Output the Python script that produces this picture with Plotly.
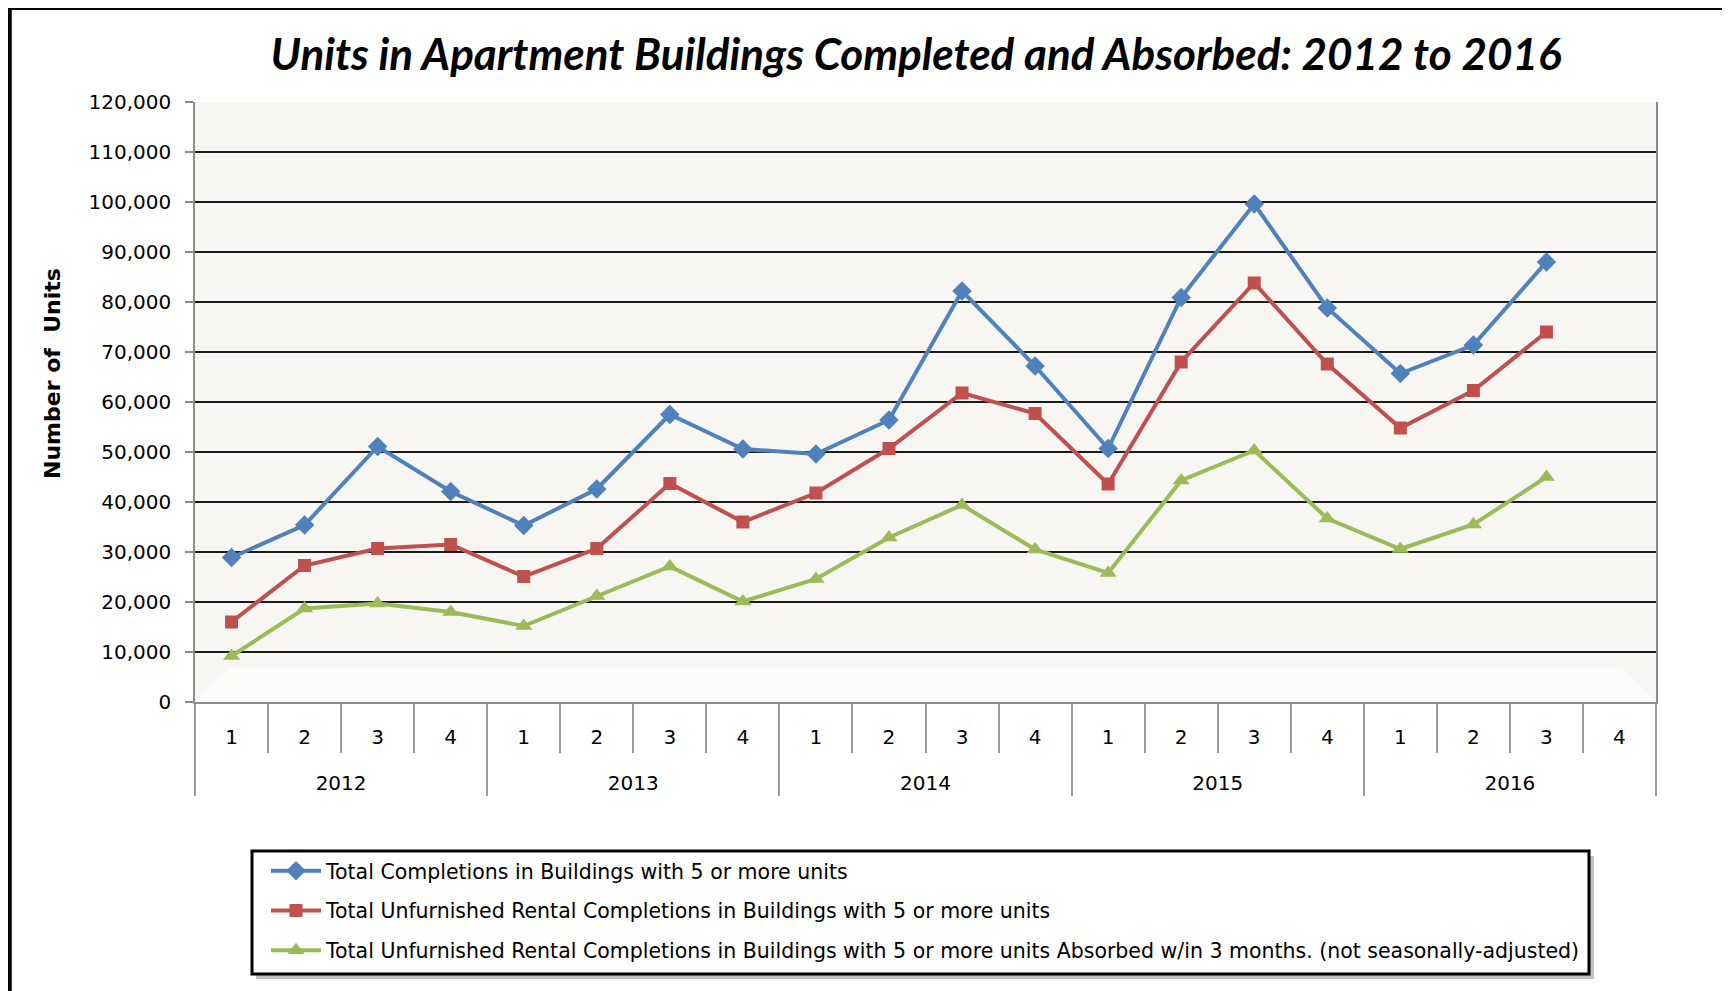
import plotly.graph_objects as go

# ---------------- data ----------------
years = ["2012", "2013", "2014", "2015", "2016"]
quarters = ["1", "2", "3", "4"]

total_completions = [28900, 35400, 51100, 42100, 35300, 42600, 57500, 50600, 49600, 56400,
                     82200, 67200, 50700, 80900, 99600, 78800, 65700, 71400, 88000, None]
unfurnished_rental = [16000, 27300, 30700, 31500, 25100, 30700, 43700, 36000, 41800, 50700,
                      61800, 57700, 43600, 68000, 83800, 67600, 54800, 62300, 74000, None]
absorbed_3_months = [9200, 18700, 19700, 18000, 15200, 21200, 27100, 20100, 24600, 32900,
                     39400, 30500, 25800, 44300, 50300, 36700, 30600, 35500, 45000, None]

series_names = [
    "Total Completions in Buildings with 5 or more units",
    "Total Unfurnished Rental Completions in Buildings with 5 or more units",
    "Total Unfurnished Rental Completions in Buildings with 5 or more units Absorbed w/in 3 months. (not seasonally-adjusted)",
]
title_text = "Units in Apartment Buildings Completed and Absorbed: 2012 to 2016"
y_title = "Number of  Units"

# ---------------- geometry (screen pixels -> paper) ----------------
OFF = 8                      # page body margin
FW, FH = 1730 - OFF, 991 - OFF
PL, PR, PT, PB = 195, 1656, 102, 702   # plot area, screen pixels


def px(x):
    return (x - PL) / (PR - PL)


def py(y):
    return (PB - y) / (PB - PT)


# year labels pushed down so they sit in the lower band; quarter labels padded
# with wide invisible spacers so the label band is taller
pad = "<span style='font-size:29px'>\u00a0</span>"
x_year = ["<br>" + y for y in years for _ in quarters]
x_q = [pad + q + pad for _ in years for q in quarters]

colors = ["#4F81BD", "#C0504D", "#9BBB59"]
symbols = ["diamond", "square", "triangle-up"]
msizes = [15, 13, 15]
values = [total_completions, unfurnished_rental, absorbed_3_months]

fig = go.Figure()
for i in range(3):
    fig.add_trace(go.Scatter(
        x=[x_year, x_q], y=values[i], name=series_names[i],
        mode="lines+markers",
        line=dict(color=colors[i], width=4),
        marker=dict(symbol=symbols[i], size=msizes[i], color=colors[i]),
        legendgroup=f"g{i}",
    ))

shapes = []
# floor of the 3D-look wall
shapes.append(dict(type="path", xref="paper", yref="paper", layer="below",
                   path=f"M {px(195)} {py(702)} L {px(1656)} {py(702)} L {px(1622)} {py(668)} L {px(229)} {py(668)} Z",
                   fillcolor="rgba(255,255,255,0.6)", line=dict(width=0)))
# outer frame
shapes.append(dict(type="line", xref="paper", yref="paper", x0=px(5), x1=px(1735), y0=py(7.5), y1=py(7.5),
                   line=dict(color="black", width=5)))
shapes.append(dict(type="line", xref="paper", yref="paper", x0=px(9.5), x1=px(9.5), y0=py(5), y1=py(1000),
                   line=dict(color="black", width=4.5)))
shapes.append(dict(type="line", xref="paper", yref="paper", x0=px(1727), x1=px(1727), y0=py(10), y1=py(1000),
                   line=dict(color="#808080", width=1.5)))
# legend shadow and box
shapes.append(dict(type="rect", xref="paper", yref="paper", x0=px(256), x1=px(1594), y0=py(856), y1=py(979),
                   fillcolor="rgba(120,120,120,0.45)", line=dict(width=0)))
shapes.append(dict(type="rect", xref="paper", yref="paper", x0=px(252), x1=px(1589), y0=py(851), y1=py(974),
                   fillcolor="white", line=dict(color="black", width=3)))

fig.update_layout(
    width=FW, height=FH,
    margin=dict(l=PL - OFF, r=FW - (PR - OFF), t=PT - OFF, b=FH - (PB - OFF)),
    paper_bgcolor="white",
    plot_bgcolor="#F7F6F2",
    font=dict(family="DejaVu Sans", size=20, color="black"),
    title=dict(text=title_text, x=px(916), xref="paper", xanchor="center",
               y=1 - (55 - OFF) / FH, yref="container", yanchor="middle",
               font=dict(family="Lato", size=44, weight="bold", style="italic", color="black")),
    showlegend=True,
    legend=dict(x=px(266), y=py(851), xanchor="left", yanchor="top",
                bgcolor="rgba(0,0,0,0)", borderwidth=0,
                font=dict(family="DejaVu Sans", size=20.5, color="black"),
                traceorder="grouped", tracegroupgap=10, itemwidth=50),
    shapes=shapes,
    annotations=[dict(text=y_title, xref="paper", yref="paper", x=px(52), y=py(374),
                      xanchor="center", yanchor="middle",
                      textangle=-90, showarrow=False,
                      font=dict(family="DejaVu Sans", size=22, weight="bold", color="black"))],
)

fig.update_yaxes(range=[0, 120000], dtick=10000, tickformat=",",
                 showgrid=True, gridcolor="#1a1a1a", gridwidth=1.7, zeroline=False,
                 showline=True, linecolor="#8c8c8c", linewidth=1.5, mirror=True,
                 ticks="outside", ticklen=8, tickcolor="#8c8c8c", tickwidth=1.5,
                 ticklabelstandoff=10,
                 tickfont=dict(family="DejaVu Sans", size=20, color="black"))
fig.update_xaxes(type="multicategory", range=[-0.5, 19.5], showgrid=False,
                 showline=True, linecolor="#8c8c8c", linewidth=2,
                 ticks="outside", ticklen=49, tickcolor="#9a9a9a", tickwidth=1.5,
                 ticklabelstandoff=16,
                 showdividers=True, dividercolor="#9a9a9a", dividerwidth=1.5,
                 tickfont=dict(family="DejaVu Sans", size=20, color="black"))

fig.write_html("out.html")
